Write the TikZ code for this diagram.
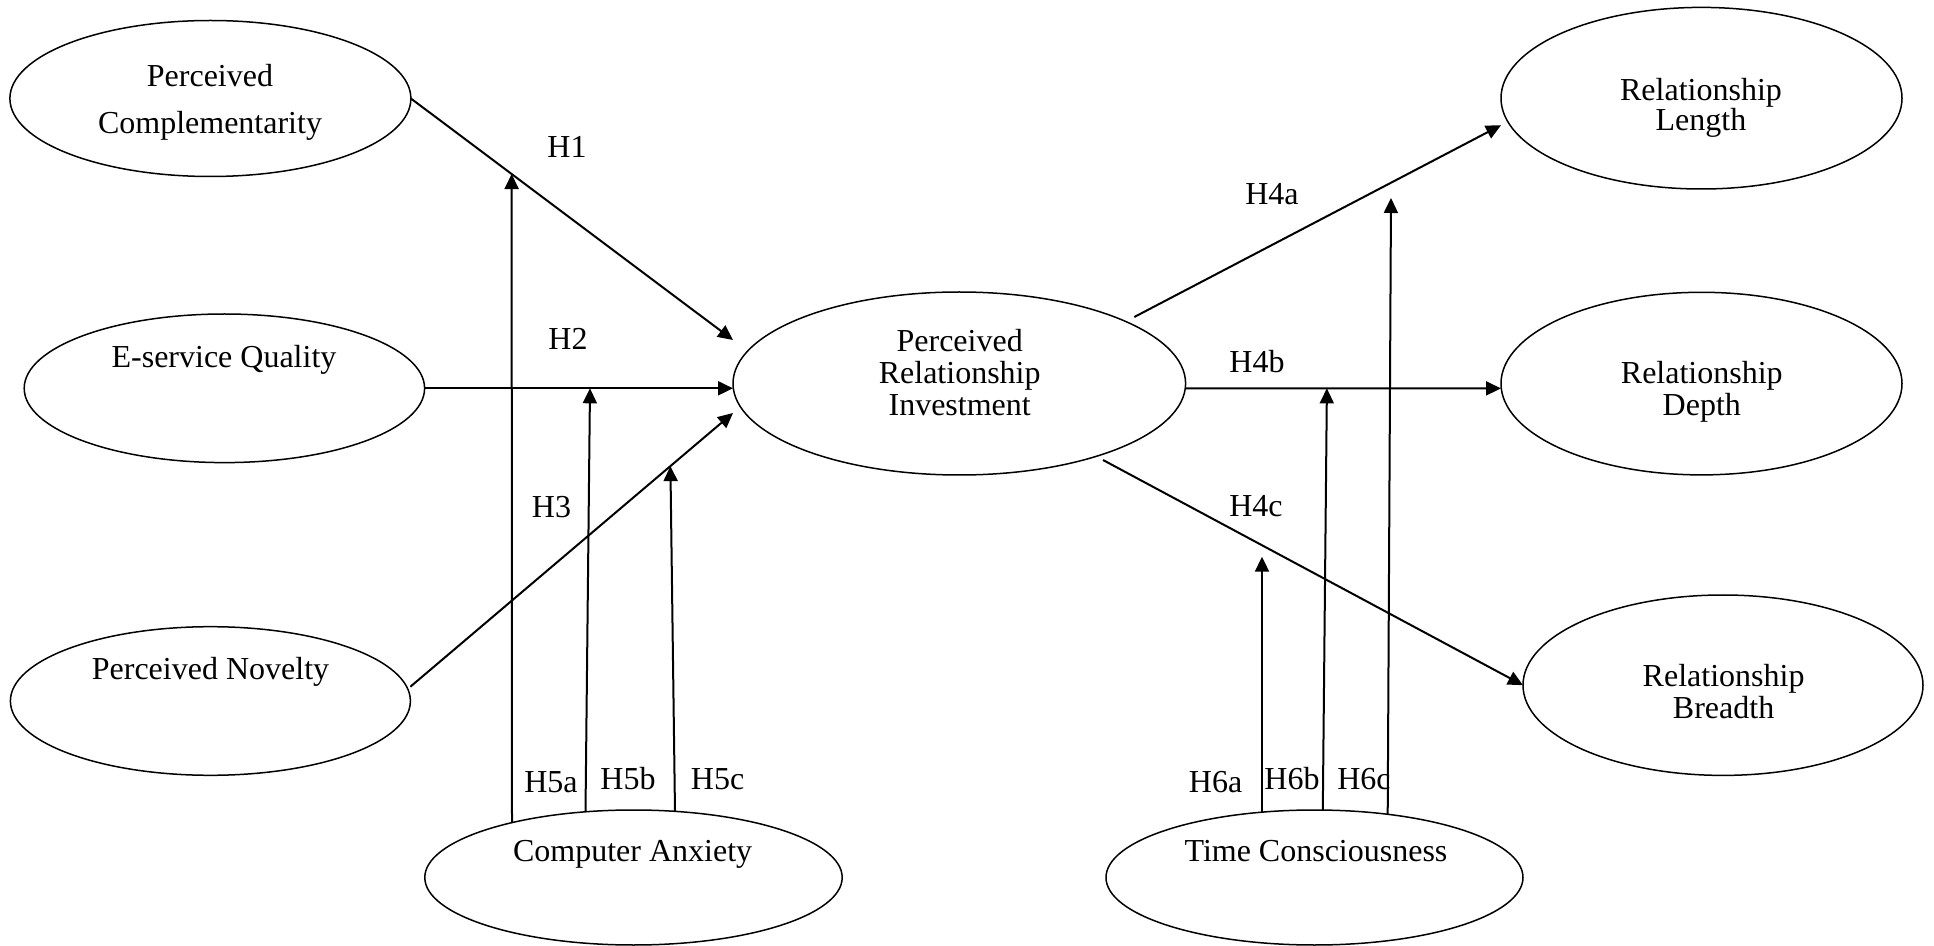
\documentclass[tikz,border=0pt]{standalone}
\usepackage{fontspec}
\setmainfont{Liberation Serif}
\usetikzlibrary{shapes.geometric,arrows.meta,calc}
\newcommand\lblfont{\fontsize{16pt}{16pt}\selectfont}
\tikzset{
  ell/.style={draw, ellipse, line width=0.75pt, inner sep=0pt, outer sep=0pt},
  txt/.style={font=\lblfont, inner sep=0pt, align=center},
  arr/.style={line width=1pt, -{Triangle[length=7.5pt,width=7pt]}},
}
\begin{document}
\begin{tikzpicture}[x=0.5pt, y=-0.5pt]
\useasboundingbox (0,0) rectangle (1934,946);

% ellipses (minimum width = 2 rx px = rx pt)
\node[ell, minimum width=200.5pt, minimum height=78pt]   (PC)  at (210.4,98.5) {};
\node[ell, minimum width=200.2pt, minimum height=74.3pt] (ESQ) at (224.4,388.3) {};
\node[ell, minimum width=200pt,   minimum height=74.3pt] (PN)  at (210.4,701) {};
\node[ell, minimum width=208.7pt, minimum height=67.5pt] (CA)  at (633.5,877.5) {};
\node[ell, minimum width=226.3pt, minimum height=91.5pt] (PRI) at (959.3,383.5) {};
\node[ell, minimum width=200.5pt, minimum height=90.8pt] (RL)  at (1701.5,98.2) {};
\node[ell, minimum width=200.5pt, minimum height=91.3pt] (RD)  at (1701.5,383.6) {};
\node[ell, minimum width=200pt,   minimum height=90.2pt] (RB)  at (1723,685.2) {};
\node[ell, minimum width=208.5pt, minimum height=67.5pt] (TC)  at (1314.5,877.5) {};

% texts
\node[txt] (PCt)  at (210,102)      {Perceived\\[7.5pt]Complementarity};
\node[txt] (ESQt) at (224,359.5)    {E-service Quality};
\node[txt] (PNt)  at (210.5,671.5)  {Perceived Novelty};
\node[txt] (CAt)  at (632.6,854)    {Computer Anxiety};
\node[txt] (TCt)  at (1316,851)     {Time Consciousness};
\node[txt] (PRIt) at (959.7,373)    {Perceived\\Relationship\\Investment};
\node[txt] (RLt)  at (1701,107.5)   {Relationship\\[-1pt]Length};
\node[txt] (RDt)  at (1701.8,391.7) {Relationship\\Depth};
\node[txt] (RBt)  at (1723.6,691.5) {Relationship\\Breadth};

% free ends
\coordinate (f6a) at (1262,556.7);
\coordinate (f6c) at (1391,198);

% main paths
\draw[arr] (PC.east) -- coordinate[pos=0.3127] (m1) ($(PRI.center)+(-226.3,-43.5)$);
\draw[arr] (ESQ.east) -- coordinate[pos=0.5363] (m2) (ESQ.east -| PRI.west);
\draw[arr] ($(PN.center)+(200,-14.3)$) -- coordinate[pos=0.806] (m3) ($(PRI.center)+(-226.3,29.5)$);
\draw[arr] ($(PRI.center)+(175,-66.5)$) -- ($(RL.center)+(-200.5,27)$);
\draw[arr] ($(PRI.center)+(226.3,4.8)$) -- coordinate[pos=0.448] (m4) ($(RD.center)+(-200.5,4.8)$);
\draw[arr] ($(PRI.center)+(143.7,76.5)$) -- (RB.west);

% moderators
\draw[arr] ($(CA.center)+(-121.5,-54.9)$) -- (m1);
\draw[arr] ($(CA.center)+(-48,-65.7)$) -- (m2);
\draw[arr] ($(CA.center)+(41.5,-65.6)$) -- (m3);
\draw[arr] ($(TC.center)+(-52.5,-65.3)$) -- (f6a);
\draw[arr] ($(TC.center)+(8.3,-67.5)$) -- (m4);
\draw[arr] ($(TC.center)+(73.2,-63.5)$) -- (f6c);

% labels
\node[txt] (h1)  at (567,147)    {H1};
\node[txt] (h2)  at (568,339)    {H2};
\node[txt] (h3)  at (551.5,507)  {H3};
\node[txt] (h5a) at (551,782.5)  {H5a};
\node[txt] (h5b) at (628,779)    {H5b};
\node[txt] (h5c) at (717.6,779)  {H5c};
\node[txt] (h4a) at (1272,194)   {H4a};
\node[txt] (h4b) at (1257,362)   {H4b};
\node[txt] (h4c) at (1256,506)   {H4c};
\node[txt] (h6a) at (1215.6,782.5) {H6a};
\node[txt] (h6b) at (1292,779)   {H6b};
\node[txt] (h6c) at (1364,779)   {H6c};
\end{tikzpicture}
\end{document}
